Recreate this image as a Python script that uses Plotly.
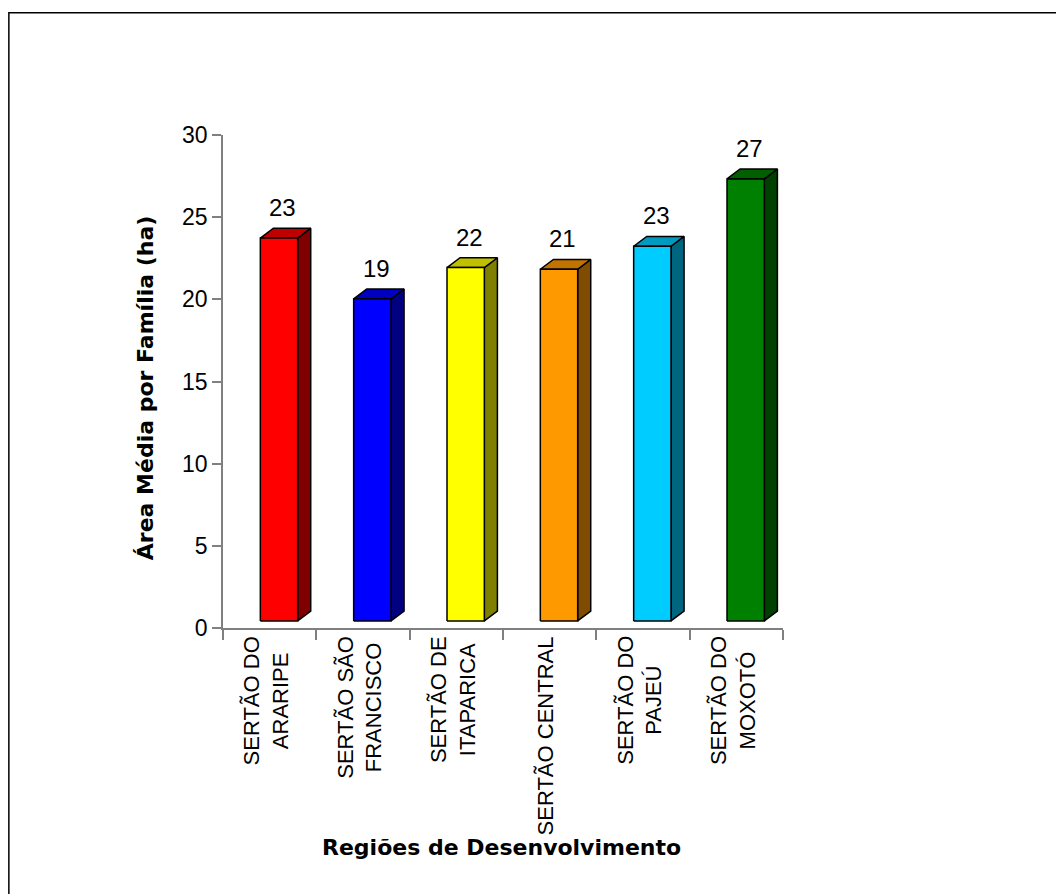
import plotly.graph_objects as go

# ---- data ----
regions = ["SERTÃO DO<br>ARARIPE", "SERTÃO SÃO<br>FRANCISCO", "SERTÃO DE<br>ITAPARICA",
           "SERTÃO CENTRAL", "SERTÃO DO<br>PAJEÚ", "SERTÃO DO<br>MOXOTÓ"]
values = [23.3, 19.6, 21.5, 21.4, 22.8, 26.9]
value_labels = ["23", "19", "22", "21", "23", "27"]
front_colors = ["#FF0000", "#0000FF", "#FFFF00", "#FF9900", "#00CCFF", "#008000"]
top_colors = ["#C00000", "#0000C0", "#C0C000", "#C07300", "#0099C0", "#006000"]
side_colors = ["#800000", "#000080", "#808000", "#804C00", "#006680", "#004000"]
y_ticks = [0, 5, 10, 15, 20, 25, 30]

# ---- geometry (page has an 8px body margin; coordinates are figure pixels) ----
W, H = 1064, 894
L, R, T, B = 215, 288.7, 126.7, 274
floor = 0.43
fx0, fx1 = -0.10, 0.30
dx, dy = 0.14, 0.6

FONT = "Arial, Liberation Sans, sans-serif"
TFONT = "DejaVu Sans, Arial, sans-serif"
fig = go.Figure()

for i, v in enumerate(values):
    top = floor + v
    x0, x1 = i + fx0, i + fx1
    # side face
    fig.add_trace(go.Scatter(
        x=[x1, x1 + dx, x1 + dx, x1, x1], y=[floor, floor + dy, top + dy, top, floor],
        fill="toself", fillcolor=side_colors[i], mode="lines",
        line=dict(color="black", width=1.5), hoverinfo="skip", showlegend=False))
    # top face
    fig.add_trace(go.Scatter(
        x=[x0, x1, x1 + dx, x0 + dx, x0], y=[top, top, top + dy, top + dy, top],
        fill="toself", fillcolor=top_colors[i], mode="lines",
        line=dict(color="black", width=1.5), hoverinfo="skip", showlegend=False))
    # front face
    fig.add_trace(go.Scatter(
        x=[x0, x1, x1, x0, x0], y=[floor, floor, top, top, floor],
        fill="toself", fillcolor=front_colors[i], mode="lines",
        line=dict(color="black", width=1.5), hoverinfo="skip", showlegend=False))
    # value label
    fig.add_annotation(x=i + 0.14, y=top + dy, text=value_labels[i], showarrow=False,
                       xanchor="center", yanchor="bottom", yshift=5,
                       font=dict(family=FONT, size=24, color="black"))
    # category label
    fig.add_annotation(x=i - 0.04, y=0, text=regions[i], showarrow=False,
                       textangle=-90, xanchor="center", yanchor="top", yshift=-6,
                       align="center", font=dict(family=FONT, size=22, color="black"))

pw = W - L - R
ph = H - T - B
def px_x(p):
    return (p - L) / pw
def px_y(p):
    return 1 - (p - T) / ph

# axis titles
fig.add_annotation(xref="paper", yref="paper", x=px_x(137), y=px_y(380),
                   text="<b>Área Média por Família (ha)</b>", textangle=-90, showarrow=False,
                   xanchor="center", yanchor="middle",
                   font=dict(family=TFONT, size=22, color="black"))
fig.add_annotation(xref="paper", yref="paper", x=px_x(494), y=px_y(840),
                   text="<b>Regiões de Desenvolvimento</b>", showarrow=False,
                   xanchor="center", yanchor="middle",
                   font=dict(family=TFONT, size=22, color="black"))

# outer frame
fig.add_shape(type="rect", xref="paper", yref="paper",
              x0=px_x(0.75), x1=px_x(1080), y0=px_y(910), y1=px_y(4.5),
              line=dict(color="black", width=1.5), fillcolor="rgba(0,0,0,0)", layer="below")

fig.update_layout(
    width=W, height=H,
    margin=dict(l=L, r=R, t=T, b=B, pad=0),
    paper_bgcolor="white", plot_bgcolor="white",
    showlegend=False,
    xaxis=dict(range=[-0.5, 5.5], tickmode="array",
               tickvals=[k - 0.5 for k in range(len(values) + 1)],
               showticklabels=False, ticks="outside", ticklen=10, tickwidth=1.5,
               tickcolor="#808080", showline=True, linecolor="#808080", linewidth=1.5,
               showgrid=False, zeroline=False, fixedrange=True),
    yaxis=dict(range=[0, 30], tickmode="array", tickvals=y_ticks,
               ticktext=[str(t) for t in y_ticks],
               ticks="outside", ticklen=9, tickwidth=1.5, tickcolor="#808080",
               showline=True, linecolor="#808080", linewidth=1.5,
               showgrid=False, zeroline=False,
               tickfont=dict(family=FONT, size=23, color="black"), fixedrange=True),
)

fig.write_html("out.html")
